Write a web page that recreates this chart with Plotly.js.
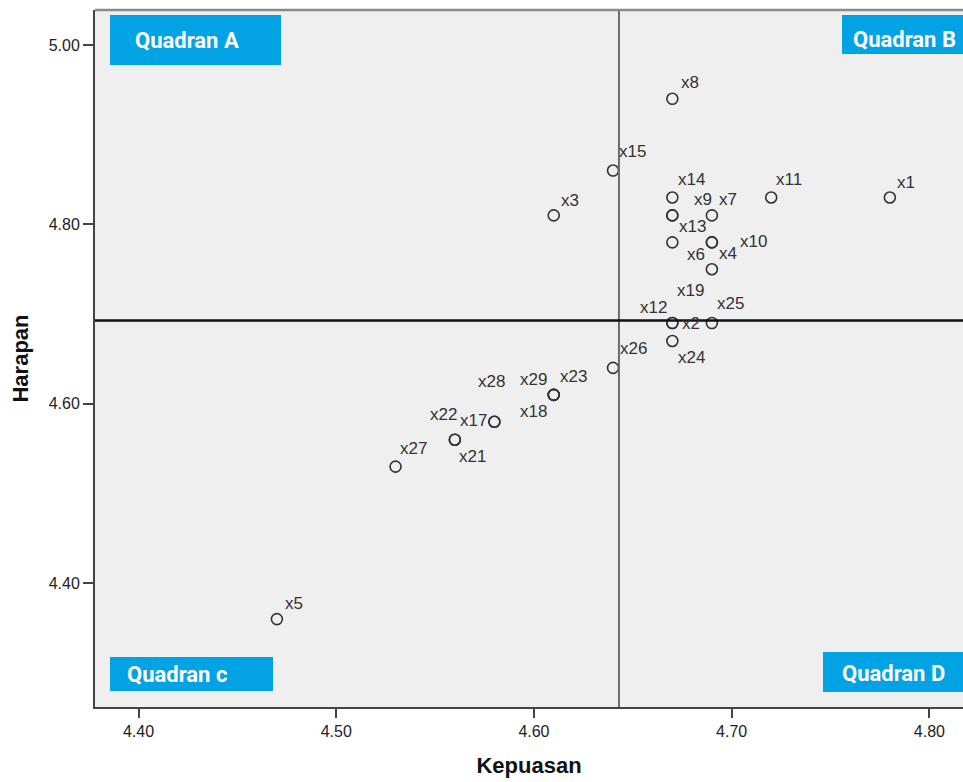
<!DOCTYPE html>
<html>
<head>
<meta charset="utf-8">
<script src="https://cdn.plot.ly/plotly-3.0.1.min.js"></script>
<style>
  html, body { margin: 0; padding: 0; background: #ffffff; }
  #chart { width: 963px; height: 782px; }
</style>
</head>
<body>
<div id="chart"></div>
<script>
// ---- data ----
const itemLabels = ["x1","x2","x3","x4","x5","x6","x7","x8","x9","x10","x11","x12","x13","x14","x15",
                    "x17","x18","x19","x21","x22","x23","x24","x25","x26","x27","x28","x29"];
const kepuasan   = [4.78, 4.67, 4.61, 4.69, 4.47, 4.67, 4.69, 4.67, 4.67, 4.69, 4.72, 4.67, 4.67, 4.67, 4.64,
                    4.58, 4.61, 4.69, 4.56, 4.56, 4.61, 4.67, 4.69, 4.64, 4.53, 4.58, 4.61];
const harapan    = [4.83, 4.69, 4.81, 4.78, 4.36, 4.78, 4.81, 4.94, 4.81, 4.78, 4.83, 4.69, 4.81, 4.83, 4.86,
                    4.58, 4.61, 4.75, 4.56, 4.56, 4.61, 4.67, 4.69, 4.64, 4.53, 4.58, 4.61];
const meanKepuasan = 4.643;
const meanHarapan  = 4.693;
const xTickVals = [4.40, 4.50, 4.60, 4.70, 4.80];
const xTickText = ["4.40", "4.50", "4.60", "4.70", "4.80"];
const yTickVals = [4.40, 4.60, 4.80, 5.00];
const yTickText = ["4.40", "4.60", "4.80", "5.00"];
const quadrantNames = ["Quadran A", "Quadran B", "Quadran c", "Quadran D"];

// ---- label placement (pixel offsets from each point, layout only) ----
const labelOffset = {
  x1:[16,-15], x2:[19,0], x3:[16,-15], x4:[16,11], x5:[17,-16], x6:[24,12], x7:[16,-16],
  x8:[18,-16], x9:[31,-16], x10:[42,-1], x11:[18,-18], x12:[-19,-16], x13:[20,11], x14:[19,-18],
  x15:[19,-19], x17:[-21,-1], x18:[-20,17], x19:[-21,21], x21:[18,17], x22:[-11,-25],
  x23:[20,-18], x24:[19,16], x25:[19,-20], x26:[20,-19], x27:[18,-18], x28:[-3,-40], x29:[-20,-15]
};

// plot area in pixels
const L = 95, T = 10, R = 963, B = 707;
const px = v => (v - L) / (R - L);
const py = v => 1 - (v - T) / (B - T);

const annotations = itemLabels.map((lab, i) => ({
  x: kepuasan[i], y: harapan[i], xref: 'x', yref: 'y',
  text: lab, showarrow: false,
  xshift: labelOffset[lab][0], yshift: -labelOffset[lab][1],
  font: { family: 'Liberation Sans, Arial, sans-serif', size: 17, color: '#333333' }
}));

// quadrant boxes: [left, top, right, bottom, textLeft, textMidY]
const qBoxes = [
  [110, 15, 281, 65, 133, 41],
  [842, 15, 970, 54, 851, 39],
  [110, 657, 273, 691, 125, 674],
  [823, 652, 970, 692, 840, 673]
];
const shapes = [];
qBoxes.forEach((b, k) => {
  shapes.push({ type: 'rect', xref: 'paper', yref: 'paper', layer: 'above',
    x0: px(b[0]), x1: px(b[2]), y0: py(b[3]), y1: py(b[1]),
    fillcolor: '#02a3e4', line: { width: 0 } });
  annotations.push({ xref: 'paper', yref: 'paper', x: px(b[4]), y: py(b[5]),
    xanchor: 'left', yanchor: 'middle', showarrow: false, text: '<b>' + quadrantNames[k] + '</b>',
    font: { family: 'Roboto, Liberation Sans, Arial, sans-serif', size: 22, color: '#ffffff' } });
});
// mean reference lines
shapes.push({ type: 'line', xref: 'x', yref: 'paper', x0: meanKepuasan, x1: meanKepuasan, y0: 0, y1: 1,
  line: { color: '#6b6b6b', width: 2 } });
shapes.push({ type: 'line', xref: 'paper', yref: 'y', x0: 0, x1: 1, y0: meanHarapan, y1: meanHarapan,
  line: { color: '#111111', width: 2.5 } });
// top frame line
shapes.push({ type: 'line', xref: 'paper', yref: 'paper', x0: 0, x1: 1, y0: 1, y1: 1,
  line: { color: '#8a8a8a', width: 2.5 } });

const trace = {
  type: 'scatter', mode: 'markers',
  x: kepuasan, y: harapan, text: itemLabels,
  marker: { symbol: 'circle-open', size: 11, color: '#333333', line: { width: 1.6, color: '#333333' } },
  hoverinfo: 'text+x+y', cliponaxis: false
};

const layout = {
  width: 963, height: 782,
  margin: { l: L, r: 0, t: T, b: 782 - B, pad: 0 },
  paper_bgcolor: '#ffffff', plot_bgcolor: '#efefef',
  showlegend: false,
  font: { family: 'Liberation Sans, Arial, sans-serif', color: '#222222' },
  xaxis: {
    range: [4.378, 4.817], tickvals: xTickVals, ticktext: xTickText,
    showgrid: false, zeroline: false, showline: true, linecolor: '#444444', linewidth: 2,
    ticks: 'outside', ticklen: 9, tickwidth: 2, tickcolor: '#444444',
    tickfont: { size: 16, color: '#222222' },
    title: { text: '<b>Kepuasan</b>', font: { size: 22, color: '#111111' }, standoff: 18 }
  },
  yaxis: {
    range: [4.262, 5.039], tickvals: yTickVals, ticktext: yTickText,
    showgrid: false, zeroline: false, showline: true, linecolor: '#444444', linewidth: 2,
    ticks: 'outside', ticklen: 10, tickwidth: 2, tickcolor: '#444444',
    tickfont: { size: 16, color: '#222222' },
    title: { text: '<b>Harapan</b>', font: { size: 22, color: '#111111' }, standoff: 14 }
  },
  shapes: shapes,
  annotations: annotations
};

Plotly.newPlot('chart', [trace], layout, { displayModeBar: false, responsive: false });
</script>
</body>
</html>
